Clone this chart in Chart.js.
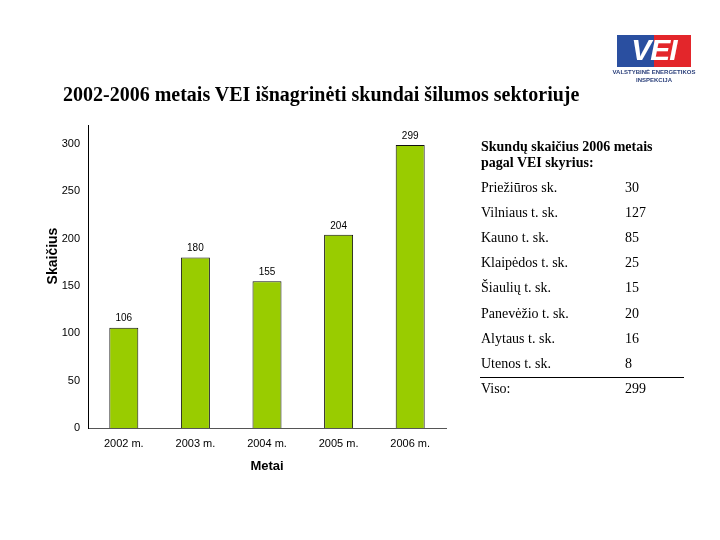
<!DOCTYPE html>
<html>
<head>
<meta charset="utf-8">
<script src="https://cdn.jsdelivr.net/npm/chart.js@4.4.1/dist/chart.umd.min.js"></script>
<style>
  body { margin: 0; background: #fff; }
  #wrap { position: relative; width: 720px; height: 540px; overflow: hidden; }
  #c { position: absolute; left: 0; top: 0; }
  .t { position: absolute; font-family: "Liberation Serif", "Times New Roman", serif; color: #000; white-space: nowrap; }
  #title { left: 63px; top: 83px; font-size: 20px; font-weight: bold; }
  .hd { font-size: 14px; font-weight: bold; }
  .row { font-size: 14px; line-height: 16px; }
  #logo .b { position: absolute; left: 617px; top: 35px; width: 37px; height: 32px; background: #2a4fa0; }
  #logo .r { position: absolute; left: 654px; top: 35px; width: 37px; height: 32px; background: #e3262b; }
  #logo .v { position: absolute; left: 617px; top: 33px; width: 74px; text-align: center; font: italic bold 30px "Liberation Sans", Arial, sans-serif; color: #fff; letter-spacing: -1px; }
  #logo .s { position: absolute; left: 610px; width: 88px; text-align: center; font: bold 6px "Liberation Sans", Arial, sans-serif; color: #2a3f7a; }
</style>
</head>
<body>
<div id="wrap">
  <canvas id="c" width="720" height="540"></canvas>
  <div id="title" class="t">2002-2006 metais VEI išnagrinėti skundai šilumos sektoriuje</div>
  <div id="logo">
    <div class="b"></div><div class="r"></div>
    <div class="v">VEI</div>
    <div class="s" style="top:69px">VALSTYBINĖ ENERGETIKOS</div>
    <div class="s" style="top:77px">INSPEKCIJA</div>
  </div>
  <div id="table"></div>
</div>
<script>
const years = ["2002 m.", "2003 m.", "2004 m.", "2005 m.", "2006 m."];
const complaints = [106, 180, 155, 204, 299];
const yTicks = [0, 50, 100, 150, 200, 250, 300];

const tableTitle = ["Skundų skaičius 2006 metais", "pagal VEI  skyrius:"];
const units = ["Priežiūros sk.", "Vilniaus t. sk.", "Kauno t. sk.", "Klaipėdos t. sk.", "Šiaulių t. sk.", "Panevėžio t. sk.", "Alytaus t. sk.", "Utenos t. sk."];
const unitCounts = [30, 127, 85, 25, 15, 20, 16, 8];
const totalLabel = "Viso:";
const totalCount = 299;

// right-hand table as html text
const table = document.getElementById('table');
let html = '';
html += '<div class="t hd" style="left:481px;top:139px">' + tableTitle[0] + '</div>';
html += '<div class="t hd" style="left:481px;top:155px">' + tableTitle[1] + '</div>';
units.forEach((u, i) => {
    const top = 180 + i * 25.1;
    html += '<div class="t row" style="left:481px;top:' + top + 'px">' + u + '</div>';
    html += '<div class="t row" style="left:625px;top:' + top + 'px">' + unitCounts[i] + '</div>';
});
html += '<div style="position:absolute;left:480px;top:377px;width:204px;height:1px;background:#000"></div>';
html += '<div class="t row" style="left:481px;top:381px">' + totalLabel + '</div>';
html += '<div class="t row" style="left:625px;top:381px">' + totalCount + '</div>';
table.innerHTML = html;

const sans = '"Liberation Sans", Arial, sans-serif';

var ctx = document.getElementById('c').getContext('2d');
new Chart(ctx, {
    type: 'bar',
    data: {
        labels: years,
        datasets: [{
            data: complaints,
            backgroundColor: '#99CC00',
            borderColor: '#111',
            borderWidth: 1,
            borderSkipped: 'bottom',
            barPercentage: 0.405,
            categoryPercentage: 1
        }]
    },
    options: {
        responsive: false,
        animation: false,
        layout: { padding: { left: 40, top: 125, right: 274, bottom: 62 } },
        scales: {
            x: {
                border: { display: true, color: '#555', width: 1 },
                grid: { display: false, drawTicks: false },
                ticks: { color: '#000', font: { family: sans, size: 11 }, padding: 9 },
                title: { display: true, text: 'Metai', color: '#000', font: { family: sans, size: 13, weight: 'bold' }, padding: { top: 6 } },
                afterFit: s => { s.height = 50; }
            },
            y: {
                min: 0,
                max: 320,
                border: { display: true, color: '#000', width: 1 },
                grid: { display: false, drawTicks: false },
                afterBuildTicks: s => { s.ticks = yTicks.map(v => ({ value: v })); },
                ticks: { color: '#000', font: { family: sans, size: 11 }, padding: 8 },
                title: { display: false },
                afterFit: s => { s.width = 48; }
            }
        },
        plugins: {
            legend: { display: false },
            tooltip: { enabled: false }
        }
    },
    plugins: [{
        id: 'labels',
        afterDraw: function (chart) {
            const c = chart.ctx;
            const meta = chart.getDatasetMeta(0);
            c.save();
            c.fillStyle = '#000';
            c.font = '10px ' + sans;
            c.textAlign = 'center';
            c.textBaseline = 'bottom';
            meta.data.forEach((bar, i) => {
                c.fillText(complaints[i], bar.x, bar.y - 4);
            });
            // y axis title
            c.translate(53, 256);
            c.rotate(-Math.PI / 2);
            c.textBaseline = 'middle';
            c.font = 'bold 14px ' + sans;
            c.fillText('Skaičius', 0, 0);
            c.restore();
        }
    }]
});
</script>
</body>
</html>
